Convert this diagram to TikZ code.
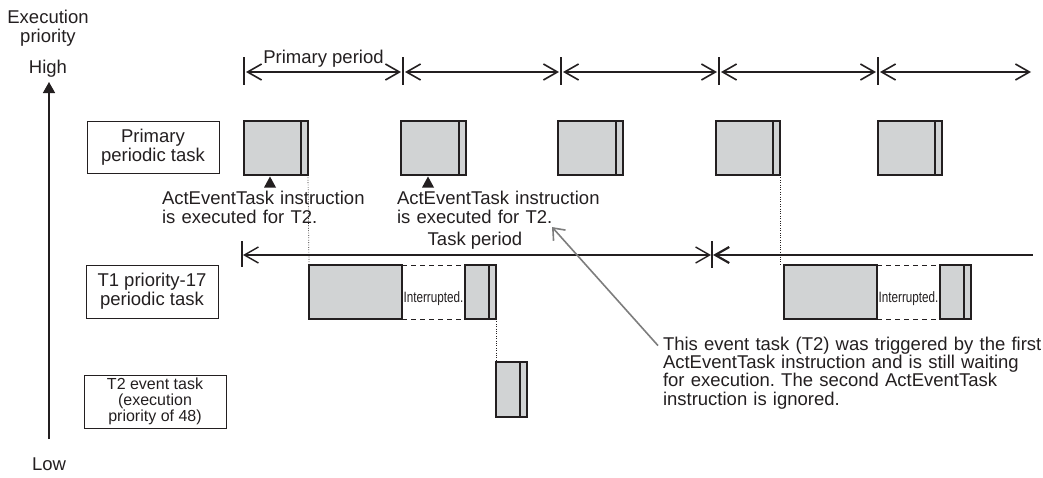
\documentclass[tikz,border=0pt]{standalone}
\usepackage{fontspec}
\setmainfont{Liberation Sans}
\usepackage{graphicx}
\usetikzlibrary{arrows.meta,calc}
\definecolor{taskgray}{RGB}{209,211,212}
\definecolor{ink}{RGB}{35,31,32}
\definecolor{notegray}{RGB}{125,125,125}
\newcommand\taskblock[5]{%
  \node[blk, minimum width=#4, minimum height=#5] (#1) at (#2,#3) {};
  \node[blk, minimum width=7pt, minimum height=#5] (#1s) at (#1.north east) {};}
\frenchspacing
\begin{document}
\begin{tikzpicture}[x=1pt,y=-1pt,
  every node/.style={inner sep=0pt, outer sep=0pt, text=ink},
  big/.style={font=\fontsize{18.5}{19}\selectfont},
  small/.style={font=\fontsize{16}{16}\selectfont},
  labelbox/.style={draw=ink, line width=0.9pt, align=center},
  blk/.style={draw=ink, fill=taskgray, line width=1.1pt, anchor=north west},
  barb/.tip={Straight Barb[length=14pt,width=16pt]},
  per/.style={draw=ink, line width=1.6pt, barb-barb, shorten <=2pt, shorten >=2pt},
  tickln/.style={draw=ink, line width=1.1pt},
  dotln/.style={draw=ink, line width=0.7pt, dash pattern=on 0.8pt off 1.6pt},
  dashln/.style={draw=ink, line width=0.9pt, dash pattern=on 5pt off 4pt},
  notearrow/.style={draw=notegray, line width=1.6pt, -{Straight Barb[length=10pt,width=16pt]}},
]
\useasboundingbox (0,0) rectangle (1043,477);

% priority axis
\node[big, anchor=base, text width=100pt, align=center] (axtitle) at (48,23) {Execution\\priority};
\node[big, anchor=base] (high) at (48,73) {High};
\node[big, anchor=base] (low) at (49,470) {Low};
\coordinate (axbot) at (49,439);
\coordinate (axtop) at (49,82);
\draw[ink, line width=1.5pt, -{Triangle[length=11pt,width=12pt]}] (axbot) -- (axtop);

% task labels
\node[labelbox, big, minimum width=132pt, minimum height=52pt] (lprim) at (153,147) {Primary\\periodic task};
\node[labelbox, big, minimum width=132pt, minimum height=53pt] (lt1) at (152,291.5) {T1 priority-17\\periodic task};
\node[labelbox, small, minimum width=142pt, minimum height=53pt] (lt2) at (155,401.5) {T2 event task\\(execution\\priority of 48)};

% primary period
\coordinate (k0) at (244,72);
\coordinate (k1) at (403,72);
\coordinate (k2) at (561,72);
\coordinate (k3) at (719,72);
\coordinate (k4) at (878,72);
\coordinate (kend) at (1033,72);
\foreach \k in {k0,k1,k2,k3,k4} {\draw[tickln] (\k) ++(0,-15) -- ++(0,28);}
\draw[per] (k0) -- (k1);
\draw[per] (k1) -- (k2);
\draw[per] (k2) -- (k3);
\draw[per] (k3) -- (k4);
\draw[per] (k4) -- (kend);
\node[big, anchor=base] (pplabel) at (323.5,63) {Primary period};

% primary periodic task executions
\taskblock{p1}{244}{121}{57pt}{54pt}
\taskblock{p2}{401}{121}{58pt}{54pt}
\taskblock{p3}{558}{121}{58pt}{54pt}
\taskblock{p4}{716}{121}{57pt}{54pt}
\taskblock{p5}{878}{121}{57pt}{54pt}

% ActEventTask markers
\coordinate (m1) at (270,176.5);
\coordinate (m2) at (428,176.5);
\fill[ink] (m1) -- ++(6,11) -- ++(-12,0) -- cycle;
\fill[ink] (m2) -- ++(6,11) -- ++(-12,0) -- cycle;
\node[big, anchor=base west, text width=230pt, align=left] (ann1) at (162,204) {ActEventTask instruction\\is executed for T2.};
\node[big, anchor=base west, text width=230pt, align=left] (ann2) at (397,204) {ActEventTask instruction\\is executed for T2.};

% task period
\coordinate (q0) at (242,255);
\coordinate (q1) at (712,255);
\coordinate (q2) at (1033,255);
\draw[tickln] (q0) ++(0,-14) -- ++(0,26);
\draw[tickln] (q1) ++(0,-14) -- ++(0,27);
\draw[draw=ink, line width=1.4pt, barb-barb, shorten <=1pt, shorten >=1pt] (q0) -- (q1);
\draw[draw=ink, line width=2.2pt, barb-, shorten <=1pt] (q1) -- (q2);
\node[big, anchor=base] (tplabel) at (475,245) {Task period};

% T1 periodic task executions
\node[blk, minimum width=93pt, minimum height=54pt] (a1) at (309,265) {};
\taskblock{a2}{465}{265}{24pt}{54pt}
\node[blk, minimum width=93pt, minimum height=54pt] (b1) at (784,265) {};
\taskblock{b2}{940}{265}{24pt}{54pt}
\draw[dashln] (a1.north east) -- (a2.north west);
\draw[dashln] (a1.south east) -- (a2.south west);
\draw[dashln] (b1.north east) -- (b2.north west);
\draw[dashln] (b1.south east) -- (b2.south west);
\node[font=\fontsize{15}{15}\selectfont, anchor=base, yshift=-10pt] (int1) at ($(a1.east)!0.5!(a2.west)$) {\scalebox{0.78}[1]{Interrupted.}};
\node[font=\fontsize{15}{15}\selectfont, anchor=base, yshift=-10pt] (int2) at ($(b1.east)!0.5!(b2.west)$) {\scalebox{0.78}[1]{Interrupted.}};

% T2 event task execution
\taskblock{c1}{496}{362}{24pt}{55pt}

% dotted transitions
\draw[dotln] (p1s.south east) -- (a1.north west);
\draw[dotln] (a2s.south east) -- (c1.north west);
\draw[dotln] (p4s.south east) -- (p4s.south east |- b1.north);

% note
\node[big, anchor=base west, text width=380pt, align=left, font=\fontsize{18.5}{18.4}\selectfont] (note) at (663,350) {This event task (T2) was triggered by the first\\ActEventTask instruction and is still waiting\\for execution. The second ActEventTask\\instruction is ignored.};
\coordinate (notetip) at (552,227);
\draw[notearrow] ([shift={(-5,9)}]note.north west) -- (notetip);
\end{tikzpicture}
\end{document}
